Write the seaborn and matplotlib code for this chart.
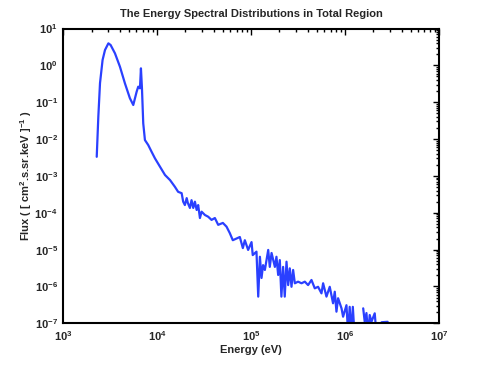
import numpy as np
import pandas as pd
import matplotlib
matplotlib.use("Agg")
import matplotlib.pyplot as plt
import seaborn as sns
from matplotlib.ticker import LogLocator, NullFormatter

# === DADOS ===
energia_ev = [
    2.27e3, 2.36e3, 2.46e3, 2.62e3, 2.78e3, 3.02e3, 3.19e3, 3.55e3, 4.01e3, 4.53e3,
    5.12e3, 5.56e3, 6.04e3, 6.28e3, 6.55e3, 6.71e3, 6.88e3, 7.10e3, 7.40e3, 8.02e3,
    8.72e3, 9.46e3, 1.07e4, 1.21e4, 1.37e4, 1.54e4, 1.67e4, 1.82e4, 1.89e4, 1.97e4,
    2.06e4, 2.12e4, 2.23e4, 2.32e4, 2.42e4, 2.52e4, 2.63e4, 2.73e4, 2.85e4, 2.97e4,
    3.22e4, 3.49e4, 3.79e4, 4.11e4, 4.46e4, 5.00e4, 5.47e4, 5.93e4, 6.38e4, 6.99e4,
    7.58e4, 8.16e4, 8.57e4, 9.29e4, 1.01e5, 1.04e5, 1.14e5, 1.19e5, 1.24e5, 1.29e5,
    1.34e5, 1.40e5, 1.52e5, 1.58e5, 1.65e5, 1.79e5, 1.86e5, 1.94e5, 2.02e5, 2.10e5,
    2.19e5, 2.28e5, 2.38e5, 2.48e5, 2.58e5, 2.69e5, 2.80e5, 2.92e5, 3.16e5, 3.44e5,
    3.73e5, 4.04e5, 4.39e5, 4.76e5, 5.16e5, 5.61e5, 5.84e5, 6.34e5, 6.87e5, 7.45e5,
    7.77e5, 8.10e5, 8.43e5, 9.17e5, 9.53e5, 1.035e6, 1.08e6, 1.12e6, 1.17e6, 1.21e6,
    1.26e6, 1.31e6, 1.45e6, 1.56e6, 1.62e6, 1.69e6, 1.76e6, 1.83e6, 1.91e6, 2.07e6,
    2.16e6, 2.30e6, 2.45e6, 2.84e6, 3.00e6,
]
fluxo = [
    3.3e-3, 4.0e-2, 3.3e-1, 1.40, 2.61, 3.96, 3.57, 2.12, 0.92, 0.326,
    0.128, 0.084, 0.193, 0.264, 0.238, 0.83, 0.238, 2.67e-2, 9.4e-3, 6.9e-3,
    4.5e-3, 3.0e-3, 1.78e-3, 1.06e-3, 7.7e-4, 5.1e-4, 3.7e-4, 3.4e-4, 2.0e-4, 1.62e-4,
    2.5e-4, 1.84e-4, 1.35e-4, 2.2e-4, 1.35e-4, 2.0e-4, 1.19e-4, 1.62e-4, 7.2e-5, 1.07e-4,
    8.7e-5, 7.8e-5, 6.4e-5, 7.2e-5, 4.7e-5, 5.3e-5, 4.2e-5, 2.8e-5, 1.8e-5, 2.0e-5,
    2.2e-5, 1.1e-5, 1.8e-5, 9.8e-6, 1.6e-5, 7.1e-6, 8.8e-6, 5.3e-7, 6.4e-6, 1.7e-6,
    3.8e-6, 2.8e-6, 9.8e-6, 3.4e-6, 8.1e-6, 3.4e-6, 6.4e-6, 2.05e-6, 5.2e-6, 5.3e-7,
    3.4e-6, 5.3e-7, 4.7e-6, 1.09e-6, 3.1e-6, 9.8e-7, 2.8e-6, 1.22e-6, 1.35e-6, 1.22e-6,
    1.35e-6, 1.09e-6, 1.5e-6, 8.9e-7, 9.8e-7, 6.5e-7, 1.22e-6, 5.3e-7, 9.8e-7, 3.5e-7,
    7.2e-7, 2.07e-7, 4.8e-7, 2.55e-7, 1.51e-7, 3.1e-7, 5e-8, 2.8e-7, 5e-8, 2.8e-7,
    5e-8, np.nan, np.nan, 2.55e-7, 1.1e-7, 1.9e-7, 5e-8, 1.68e-7, 1.1e-7, 1.87e-7,
    5e-8, np.nan, 1.07e-7, 1.1e-7, np.nan,
]

df = pd.DataFrame({"energia": energia_ev, "fluxo": fluxo})
# segmentos separados onde o fluxo é zero (lacunas na escala log)
df["seg"] = df["fluxo"].isna().cumsum()
df = df.dropna()

# === ESTILO ===
sns.set_style("white")
plt.rcParams["font.family"] = ["Liberation Sans", "DejaVu Sans"]
plt.rcParams["font.weight"] = "bold"
plt.rcParams["mathtext.fontset"] = "custom"
plt.rcParams["mathtext.rm"] = "Liberation Sans:bold"
plt.rcParams["mathtext.bf"] = "Liberation Sans:bold"
plt.rcParams["mathtext.it"] = "Liberation Sans:bold"
plt.rcParams["mathtext.default"] = "rm"

fig = plt.figure(figsize=(4.85, 3.65), dpi=100)
ax = fig.add_axes([0.1305, 0.1142, 0.7746, 0.8077])

sns.lineplot(data=df, x="energia", y="fluxo", units="seg", estimator=None,
             sort=False, color="#2a40ff", linewidth=1.6, ax=ax)

ax.set_xscale("log")
ax.set_yscale("log")
ax.set_xlim(1e3, 1e7)
ax.set_ylim(1e-7, 1e1)

ax.xaxis.set_major_locator(LogLocator(base=10, numticks=10))
ax.yaxis.set_major_locator(LogLocator(base=10, numticks=10))
ax.xaxis.set_minor_locator(LogLocator(base=10, subs=np.arange(2, 10), numticks=20))
ax.yaxis.set_minor_locator(LogLocator(base=10, subs=np.arange(2, 10), numticks=20))
ax.xaxis.set_minor_formatter(NullFormatter())
ax.yaxis.set_minor_formatter(NullFormatter())

ax.tick_params(which="both", direction="in", top=True, right=True,
               color="black", width=1.0)
ax.tick_params(which="major", length=4, labelsize=8, pad=4)
ax.tick_params(which="minor", length=2)
for lbl in ax.get_xticklabels() + ax.get_yticklabels():
    lbl.set_fontweight("bold")

for sp in ax.spines.values():
    sp.set_visible(True)
    sp.set_color("black")
    sp.set_linewidth(1.5)

ax.set_title("The Energy Spectral Distributions in Total Region",
             fontsize=8, fontweight="bold", pad=8)
ax.set_xlabel("Energy (eV)", fontsize=8, fontweight="bold", labelpad=2)
ax.set_ylabel("Flux ( [ cm$^{2}$.s.sr.keV ]$^{-1}$ )", fontsize=8,
              fontweight="bold", labelpad=0)

fig.savefig("out.png", dpi=100)
